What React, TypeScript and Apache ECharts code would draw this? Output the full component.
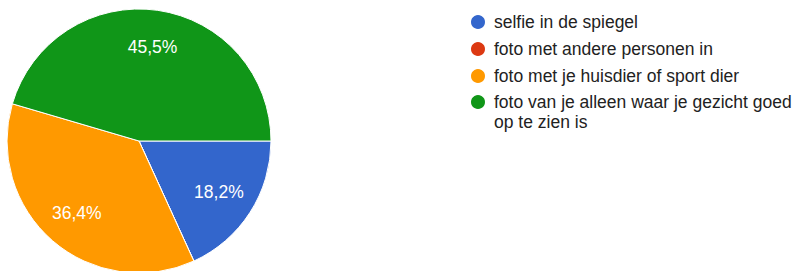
import React, { useEffect, useRef } from "react";
import * as echarts from "echarts";

const categories = [
  "selfie in de spiegel",
  "foto met andere personen in",
  "foto met je huisdier of sport dier",
  "foto van je alleen waar je gezicht goed op te zien is",
];
const legendLabels = [
  "selfie in de spiegel",
  "foto met andere personen in",
  "foto met je huisdier of sport dier",
  "\nfoto van je alleen waar je gezicht goed\nop te zien is",
];
const counts = [2, 0, 4, 5];
const colors = ["#3366CC", "#DC3912", "#FF9900", "#109618"];

const FONT = "'Liberation Sans', Arial, Helvetica, sans-serif";

export default function App() {
  const ref = useRef<HTMLDivElement>(null);
  useEffect(() => {
    if (!ref.current) return;
    const chart = echarts.init(ref.current, undefined, { renderer: "svg" });
    const total = counts.reduce((a, b) => a + b, 0);
    const data = categories.map((name, i) => ({
      name,
      value: counts[i],
      itemStyle: { color: colors[i] },
    }));
    const fmt = (v: number) =>
      v === 0 ? "" : ((v / total) * 100).toFixed(1).replace(".", ",") + "%";
    const labelOf = (name: string) => legendLabels[categories.indexOf(name)];
    const legendText = { fontSize: 17.5, lineHeight: 20, color: "#222222", fontFamily: FONT };
    chart.setOption({
      animation: false,
      textStyle: { fontFamily: FONT },
      legend: [
        {
          orient: "vertical",
          left: 464,
          top: 7,
          itemWidth: 22,
          itemHeight: 16,
          itemGap: 7,
          icon: "circle",
          selectedMode: false,
          data: categories.slice(0, 3),
          formatter: labelOf,
          textStyle: legendText,
        },
        {
          orient: "vertical",
          left: 464,
          top: 67,
          itemWidth: 22,
          itemHeight: 16,
          icon: "circle",
          selectedMode: false,
          data: categories.slice(3),
          formatter: labelOf,
          textStyle: legendText,
        },
      ],
      series: [
        {
          type: "pie",
          center: [139, 141],
          radius: [0, 132],
          startAngle: 0,
          clockwise: true,
          silent: true,
          label: { show: false },
          labelLine: { show: false },
          itemStyle: { borderColor: "#ffffff", borderWidth: 1 },
          data,
        },
        {
          type: "pie",
          center: [139, 141],
          radius: [52, 132],
          startAngle: 0,
          clockwise: true,
          silent: true,
          z: 5,
          itemStyle: { color: "rgba(0,0,0,0)" },
          labelLine: { show: false },
          label: {
            show: true,
            position: "inside",
            color: "#ffffff",
            fontSize: 17.5,
            fontFamily: FONT,
            formatter: (p: any) => fmt(p.value),
          },
          data: categories.map((name, i) => ({ name, value: counts[i] })),
        },
      ],
    });
    return () => chart.dispose();
  }, []);
  return (
    <div
      ref={ref}
      style={{ position: "fixed", left: 0, top: 0, width: 795, height: 271, background: "#ffffff" }}
    />
  );
}
